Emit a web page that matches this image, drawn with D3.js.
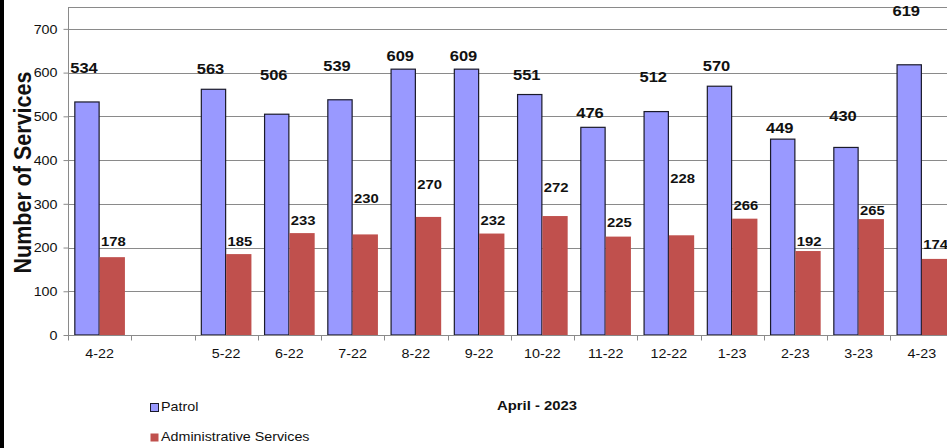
<!DOCTYPE html>
<html>
<head>
<meta charset="utf-8">
<script src="https://cdn.jsdelivr.net/npm/d3@7"></script>
<style>
  html, body { margin: 0; padding: 0; background: #fff; }
  svg { display: block; }
  text { font-family: "Liberation Sans", Arial, sans-serif; fill: #111; }
</style>
</head>
<body>
<svg id="chart" width="947" height="448"></svg>
<script>
// ---- data ----
const categories = ["4-22", "", "5-22", "6-22", "7-22", "8-22", "9-22", "10-22", "11-22", "12-22", "1-23", "2-23", "3-23", "4-23"];
const patrol = [534, null, 563, 506, 539, 609, 609, 551, 476, 512, 570, 449, 430, 619];
const adminServices = [178, null, 185, 233, 230, 270, 232, 272, 225, 228, 266, 192, 265, 174];
const yTicks = [0, 100, 200, 300, 400, 500, 600, 700];
const seriesNames = ["Patrol", "Administrative Services"];
const periodLabel = "April - 2023";
const yTitle = "Number of Services";
// data-label anchors (in value units) as placed in the original chart
const patrolLabelAt = [611, null, 609, 595, 615, 638, 638, 595, 508, 590, 615, 474, 501, 741];
const adminLabelAt = [215, null, 215, 263, 313, 345, 263, 338, 257, 358, 296, 215, 286, 207];

// ---- layout ----
const W = 947, H = 448;
const svg = d3.select("#chart");
const SX = 1.1; // horizontal stretch of the original picture's text

svg.append("rect").attr("x", 0).attr("y", 0).attr("width", W).attr("height", H).attr("fill", "#fff");
svg.append("rect").attr("x", 0).attr("y", 0).attr("width", 4).attr("height", H).attr("fill", "#000");

const x0 = d3.scaleBand().domain(d3.range(categories.length)).range([68, 68 + 63.25 * categories.length]).paddingInner(0).paddingOuter(0);
const x1 = d3.scaleBand().domain([0, 1]).range([0, x0.bandwidth()]).paddingInner(0).paddingOuter(0.25);
const y = d3.scaleLinear().domain([0, 750]).range([335, 7]);

function stretchedText(sel, x, yPos) {
  return sel.attr("transform", `translate(${x},${yPos}) scale(${SX},1)`);
}

// gridlines
const grid = svg.append("g");
grid.selectAll("line").data(yTicks.filter(d => d > 0).concat([750])).join("line")
  .attr("x1", 68).attr("x2", W + 10)
  .attr("y1", d => Math.round(y(d)) + 0.5).attr("y2", d => Math.round(y(d)) + 0.5)
  .attr("stroke", "#8a8a8a").attr("stroke-width", 1);

// bars
const colors = ["#9999FF", "#C0504D"];
const series = [patrol, adminServices];
series.forEach((vals, si) => {
  svg.append("g").selectAll("rect").data(vals.map((v, i) => ({ v, i }))).join("rect")
    .filter(d => d.v != null)
    .attr("x", d => x0(d.i) + x1(si) + (si === 0 ? 0.5 : 0))
    .attr("y", d => y(d.v) + (si === 0 ? 0.5 : 0))
    .attr("width", x1.bandwidth() - (si === 0 ? 1 : 0))
    .attr("height", d => y(0) - y(d.v) - (si === 0 ? 0.5 : 0))
    .attr("fill", colors[si])
    .attr("stroke", si === 0 ? "#1a1a2a" : "none")
    .attr("stroke-width", 1.2);
});

// axes
const yAxis = d3.axisLeft(y).tickValues(yTicks).tickSize(5).tickPadding(5).tickFormat(d3.format("d"));
const yG = svg.append("g").attr("transform", "translate(68.5,0)").call(yAxis);
yG.select(".domain").attr("d", `M0,${y(750)}V${y(0)}`).attr("stroke", "#8a8a8a");
yG.selectAll(".tick line").attr("stroke", "#8a8a8a");
yG.selectAll(".tick text").each(function (d) {
  d3.select(this).attr("x", null).attr("dy", null)
    .attr("text-anchor", "end").attr("dominant-baseline", "central")
    .attr("font-size", 13).attr("fill", "#222")
    .attr("transform", `translate(-11,0) scale(${SX},1)`);
});

const xAxis = d3.axisBottom(x0).tickSize(0).tickFormat(i => categories[i]);
const xG = svg.append("g").attr("transform", `translate(0,${Math.round(y(0)) + 0.5})`).call(xAxis);
xG.select(".domain").attr("d", `M68,0H${W + 10}`).attr("stroke", "#8a8a8a");
xG.selectAll(".tick text").attr("y", null).attr("dy", null)
  .attr("dominant-baseline", "central").attr("font-size", 13).attr("fill", "#222")
  .attr("transform", `translate(0,18) scale(${SX},1)`);
// boundary tick marks between categories
xG.append("g").selectAll("line").data(d3.range(categories.length + 1)).join("line")
  .attr("x1", i => Math.round(68 + i * x0.step()) + 0.5)
  .attr("x2", i => Math.round(68 + i * x0.step()) + 0.5)
  .attr("y1", 0).attr("y2", 5).attr("stroke", "#8a8a8a");

// data labels
const pl = svg.append("g");
patrol.forEach((v, i) => {
  if (v == null) return;
  stretchedText(pl.append("text"), x0(i) + x1(0) + x1.bandwidth() / 2 - 3, y(patrolLabelAt[i]))
    .attr("text-anchor", "middle").attr("dominant-baseline", "central")
    .attr("font-size", 15).attr("font-weight", "bold").text(v);
});
const al = svg.append("g");
adminServices.forEach((v, i) => {
  if (v == null) return;
  stretchedText(al.append("text"), x0(i) + x1(1) + x1.bandwidth() / 2 + 1, y(adminLabelAt[i]))
    .attr("text-anchor", "middle").attr("dominant-baseline", "central")
    .attr("font-size", 13.5).attr("font-weight", "bold").text(v);
});

// y title
svg.append("text")
  .attr("transform", `translate(23,172.5) rotate(-90) scale(1,1.07)`)
  .attr("text-anchor", "middle").attr("dominant-baseline", "central")
  .attr("font-size", 21.5).attr("font-weight", "bold").text(yTitle);

// period label
stretchedText(svg.append("text"), 537, 405)
  .attr("text-anchor", "middle").attr("dominant-baseline", "central")
  .attr("font-size", 13.5).attr("font-weight", "bold").text(periodLabel);

// legend
const leg = svg.append("g");
seriesNames.forEach((name, si) => {
  const cy = si === 0 ? 407 : 437;
  leg.append("rect").attr("x", 150.5).attr("y", cy - 3.5).attr("width", 8).attr("height", 8)
    .attr("fill", colors[si]).attr("stroke", si === 0 ? "#1a1a2a" : "none").attr("stroke-width", 1);
  stretchedText(leg.append("text"), 161, cy)
    .attr("text-anchor", "start").attr("dominant-baseline", "central")
    .attr("font-size", 13).attr("fill", "#222").text(name);
});
</script>
</body>
</html>
